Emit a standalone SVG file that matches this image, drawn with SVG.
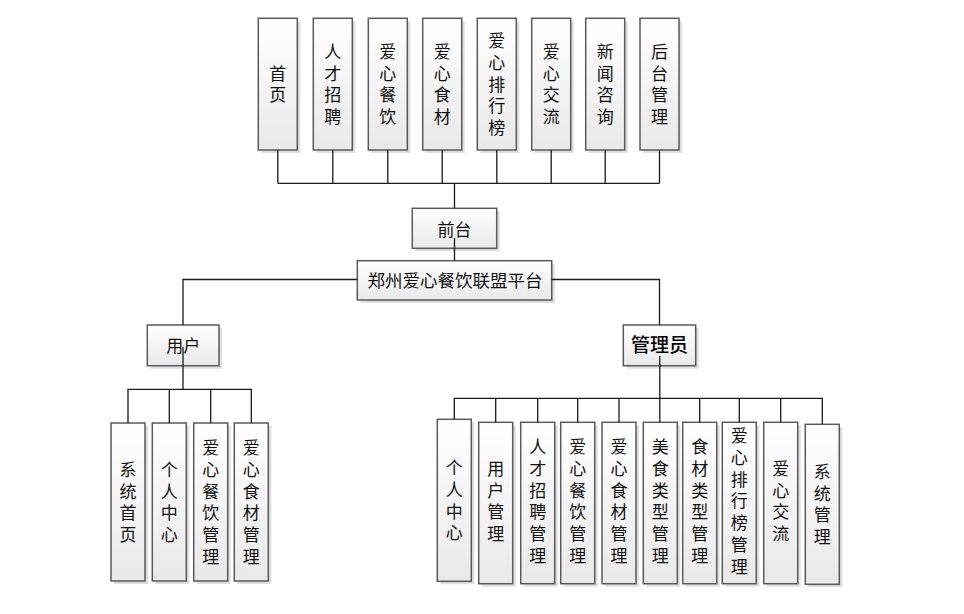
<svg xmlns="http://www.w3.org/2000/svg" width="964" height="614" viewBox="0 0 964 614">
<defs>
<linearGradient id="g" x1="0" y1="0" x2="0" y2="1">
<stop offset="0" stop-color="#ffffff"/>
<stop offset="1" stop-color="#e9e9e9"/>
</linearGradient>
<style>
.box{fill:url(#g);stroke:#5a5a5a;stroke-width:1.5}
.sh{fill:#d6d6d6;opacity:0.8}
.t{font-family:"Noto Sans CJK SC","Noto Sans CJK JP",sans-serif;font-size:17px;fill:#111;text-anchor:middle}
.v{writing-mode:vertical-rl;letter-spacing:4.7px}
.big{font-size:19px;font-weight:500;fill:#000}
.ln{stroke:#1a1a1a;stroke-width:1.3;fill:none}
</style>
</defs>
<rect width="964" height="614" fill="#ffffff"/>

<!-- top row -->
<g id="n-shouye"><rect class="sh" x="261.3" y="21.3" width="39" height="131.7"/><rect class="box" x="258.3" y="18.3" width="39" height="131.7"/>
<text class="t v" x="277.8" y="86.4">首页</text></g>
<g id="n-rencai"><rect class="sh" x="316.3" y="21.3" width="39" height="131.7"/><rect class="box" x="313.3" y="18.3" width="39" height="131.7"/>
<text class="t v" x="332.8" y="86.4">人才招聘</text></g>
<g id="n-canyin"><rect class="sh" x="371.3" y="21.3" width="39" height="131.7"/><rect class="box" x="368.3" y="18.3" width="39" height="131.7"/>
<text class="t v" x="387.8" y="86.4">爱心餐饮</text></g>
<g id="n-shicai"><rect class="sh" x="425.7" y="21.3" width="39" height="131.7"/><rect class="box" x="422.7" y="18.3" width="39" height="131.7"/>
<text class="t v" x="442.2" y="86.4">爱心食材</text></g>
<g id="n-paihang"><rect class="sh" x="480.3" y="21.3" width="39" height="131.7"/><rect class="box" x="477.3" y="18.3" width="39" height="131.7"/>
<text class="t v" x="496.8" y="86.4">爱心排行榜</text></g>
<g id="n-jiaoliu"><rect class="sh" x="534.7" y="21.3" width="39" height="131.7"/><rect class="box" x="531.7" y="18.3" width="39" height="131.7"/>
<text class="t v" x="551.2" y="86.4">爱心交流</text></g>
<g id="n-xinwen"><rect class="sh" x="588.7" y="21.3" width="39" height="131.7"/><rect class="box" x="585.7" y="18.3" width="39" height="131.7"/>
<text class="t v" x="605.2" y="86.4">新闻咨询</text></g>
<g id="n-houtai"><rect class="sh" x="643" y="21.3" width="39" height="131.7"/><rect class="box" x="640" y="18.3" width="39" height="131.7"/>
<text class="t v" x="659.5" y="86.4">后台管理</text></g>

<!-- middle -->
<g id="n-qiantai"><rect class="sh" x="415.3" y="211.3" width="84.4" height="40"/><rect class="box" x="412.3" y="208.3" width="84.4" height="40"/>
<text class="t" x="454.5" y="235.5">前台</text></g>
<g id="n-root"><rect class="sh" x="360.3" y="263.7" width="194.4" height="39.3"/><rect class="box" x="357.3" y="260.7" width="194.4" height="39.3"/>
<text class="t" x="455" y="286.8" style="font-size:17.5px">郑州爱心餐饮联盟平台</text></g>
<g id="n-user"><rect class="sh" x="150.3" y="328" width="71.7" height="40.7"/><rect class="box" x="147.3" y="325" width="71.7" height="40.7"/>
<text class="t" x="183.2" y="351.5">用户</text></g>
<g id="n-admin"><rect class="sh" x="626.3" y="328" width="72.4" height="40.7"/><rect class="box" x="623.3" y="325" width="72.4" height="40.7"/>
<text class="t big" x="659.5" y="352.3">管理员</text></g>

<!-- user children -->
<g id="n-u1"><rect class="sh" x="114" y="426" width="34" height="158"/><rect class="box" x="111" y="423" width="34" height="158"/>
<text class="t v" x="128" y="504.4">系统首页</text></g>
<g id="n-u2"><rect class="sh" x="155.3" y="426" width="34" height="158"/><rect class="box" x="152.3" y="423" width="34" height="158"/>
<text class="t v" x="169.3" y="504.4">个人中心</text></g>
<g id="n-u3"><rect class="sh" x="196.7" y="426" width="34" height="158"/><rect class="box" x="193.7" y="423" width="34" height="158"/>
<text class="t v" x="210.7" y="504.4">爱心餐饮管理</text></g>
<g id="n-u4"><rect class="sh" x="237.3" y="426" width="34" height="158"/><rect class="box" x="234.3" y="423" width="34" height="158"/>
<text class="t v" x="251.3" y="504.4">爱心食材管理</text></g>

<!-- admin children -->
<g id="n-a1"><rect class="sh" x="440.3" y="422.3" width="34" height="162"/><rect class="box" x="437.3" y="419.3" width="34" height="162"/>
<text class="t v" x="454.3" y="502.8">个人中心</text></g>
<g id="n-a2"><rect class="sh" x="481.7" y="425.3" width="34" height="161.4"/><rect class="box" x="478.7" y="422.3" width="34" height="161.4"/>
<text class="t v" x="495.7" y="503.4">用户管理</text></g>
<g id="n-a3"><rect class="sh" x="523.7" y="425.3" width="34" height="161.4"/><rect class="box" x="520.7" y="422.3" width="34" height="161.4"/>
<text class="t v" x="537.7" y="503.4">人才招聘管理</text></g>
<g id="n-a4"><rect class="sh" x="563.7" y="425.3" width="34" height="161.4"/><rect class="box" x="560.7" y="422.3" width="34" height="161.4"/>
<text class="t v" x="577.7" y="503.4">爱心餐饮管理</text></g>
<g id="n-a5"><rect class="sh" x="605" y="425.3" width="34" height="161.4"/><rect class="box" x="602" y="422.3" width="34" height="161.4"/>
<text class="t v" x="619" y="503.4">爱心食材管理</text></g>
<g id="n-a6"><rect class="sh" x="646.3" y="425.3" width="34" height="161.4"/><rect class="box" x="643.3" y="422.3" width="34" height="161.4"/>
<text class="t v" x="660.3" y="503.4">美食类型管理</text></g>
<g id="n-a7"><rect class="sh" x="685.7" y="425.3" width="34" height="161.4"/><rect class="box" x="682.7" y="422.3" width="34" height="161.4"/>
<text class="t v" x="699.7" y="503.4">食材类型管理</text></g>
<g id="n-a8"><rect class="sh" x="725.3" y="425.3" width="34" height="161.4"/><rect class="box" x="722.3" y="422.3" width="34" height="161.4"/>
<text class="t v" x="739.3" y="503.4">爱心排行榜管理</text></g>
<g id="n-a9"><rect class="sh" x="766.7" y="425.3" width="34" height="161.4"/><rect class="box" x="763.7" y="422.3" width="34" height="161.4"/>
<text class="t v" x="780.7" y="503.4">爱心交流</text></g>
<g id="n-a10"><rect class="sh" x="808.3" y="427.3" width="34" height="160"/><rect class="box" x="805.3" y="424.3" width="34" height="160"/>
<text class="t v" x="822.3" y="506.4">系统管理</text></g>

<!-- connectors -->
<g id="connectors" class="ln">
<path d="M277.8,150 V183.3 M332.8,150 V183.3 M387.8,150 V183.3 M442.2,150 V183.3 M496.8,150 V183.3 M551.2,150 V183.3 M605.2,150 V183.3 M659.5,150 V183.3 M277.8,183.3 H659.5"/>
<path d="M454.5,183.3 V208.3 M454.5,238 V260.7"/>
<path d="M357.3,279.5 H183 V325 M551.7,279.5 H659.5 V325"/>
<path d="M183,347 V389.3 M128,423 V389.3 H251.3 V423 M169.3,389.3 V423 M210.7,389.3 V423"/>
<path d="M659.8,356 V422.3 M454.3,419.3 V398.3 H822.3 V424.3 M495.7,398.3 V422.3 M537.7,398.3 V422.3 M577.7,398.3 V422.3 M619,398.3 V422.3 M699.7,398.3 V422.3 M739.3,398.3 V422.3 M780.7,398.3 V422.3"/>
</g>
</svg>
